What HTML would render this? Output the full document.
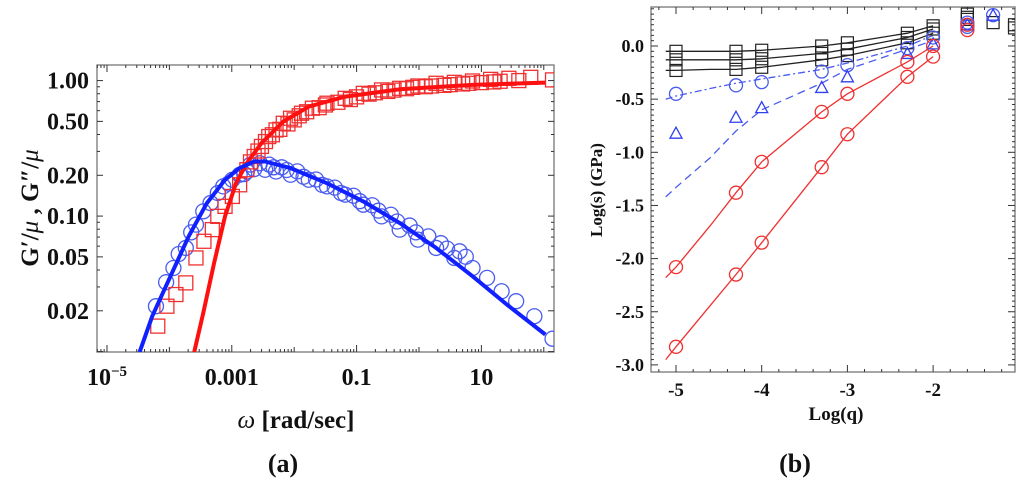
<!DOCTYPE html>
<html><head><meta charset="utf-8"><style>
body{margin:0;background:#fff;width:1024px;height:486px;overflow:hidden}
svg{display:block}
text{font-family:"Liberation Serif",serif;font-weight:bold;fill:#111}
</style></head><body>
<svg id="fig" width="1024" height="486">
<g id="A"></g>
<g id="B"></g>
<text x="283" y="472" font-size="26" text-anchor="middle">(a)</text>
<text x="795" y="472" font-size="26" text-anchor="middle">(b)</text>
</svg>
<script>
// ---------- Panel A data (log10 omega, log10 modulus) ----------
const gpX=[-4.186,-4.040,-3.895,-3.737,-3.574,-3.446,-3.312,-3.224,-3.108,-2.991,-2.874,-2.758,-2.641,-2.525,-2.408,-2.291,-2.175,-2.058,-1.883,-1.708,-1.475,-1.183,-0.892,-0.600,-0.309,-0.017,0.274,0.566,0.858,1.149,1.441,1.791,2.14,-2.70,-2.58,-2.46,-2.35,-2.23,-2.1,-2.0,-1.92,-1.8,-1.6,-1.5,-1.3,-1.1,-1.0,-0.8,-0.7,-0.5,-0.4,-0.2,-0.1,0.1,0.2,0.4,0.5,0.7,0.8,1.0,1.2,1.3,1.6];
const gpY=[-1.812,-1.665,-1.579,-1.493,-1.309,-1.186,-1.100,-1.002,-0.928,-0.855,-0.769,-0.658,-0.560,-0.486,-0.413,-0.364,-0.315,-0.278,-0.241,-0.204,-0.167,-0.131,-0.094,-0.069,-0.057,-0.040,-0.020,-0.013,-0.003,0.009,0.017,0.024,0.005,-0.60,-0.52,-0.45,-0.40,-0.36,-0.32,-0.29,-0.26,-0.23,-0.20,-0.18,-0.16,-0.14,-0.12,-0.10,-0.09,-0.08,-0.07,-0.06,-0.05,-0.045,-0.04,-0.035,-0.03,-0.025,-0.02,-0.015,-0.01,-0.005,0.0];
const gppX=[-4.215,-4.052,-3.935,-3.737,-3.574,-3.457,-3.341,-3.224,-3.137,-2.991,-2.874,-2.758,-2.641,-2.466,-2.291,-2.058,-1.766,-1.475,-1.183,-0.892,-0.600,-0.309,-0.017,0.274,0.566,0.858,1.091,1.324,1.557,1.849,2.14,-3.85,-3.65,-3.05,-2.80,-2.70,-2.55,-2.40,-2.33,-2.20,-2.12,-1.95,-1.85,-1.65,-1.55,-1.35,-1.25,-1.05,-0.95,-0.75,-0.65,-0.45,-0.35,-0.15,-0.05,0.15,0.35,0.45,0.65,0.75];
const gppY=[-1.665,-1.488,-1.383,-1.235,-1.063,-0.965,-0.904,-0.830,-0.781,-0.732,-0.695,-0.671,-0.653,-0.658,-0.671,-0.695,-0.732,-0.781,-0.842,-0.916,-1.002,-1.100,-1.174,-1.235,-1.309,-1.383,-1.456,-1.555,-1.628,-1.739,-1.905,-1.28,-1.12,-0.76,-0.69,-0.62,-0.61,-0.62,-0.64,-0.64,-0.66,-0.67,-0.71,-0.73,-0.77,-0.79,-0.83,-0.85,-0.89,-0.92,-0.96,-0.99,-1.04,-1.07,-1.12,-1.15,-1.20,-1.24,-1.26,-1.30,-1.34];
const fitPX=[-3.603,-3.457,-3.283,-3.108,-2.933,-2.758,-2.525,-2.175,-1.766,-1.183,-0.309,0.858,2.025];
const fitPY=[-2.004,-1.714,-1.346,-1.002,-0.757,-0.609,-0.462,-0.302,-0.192,-0.118,-0.064,-0.032,-0.015];
const fitPPX=[-4.478,-4.274,-3.982,-3.691,-3.399,-3.108,-2.874,-2.641,-2.466,-2.058,-1.475,-0.892,-0.309,0.274,0.858,1.441,2.025];
const fitPPY=[-2.004,-1.738,-1.444,-1.149,-0.904,-0.732,-0.646,-0.597,-0.597,-0.646,-0.757,-0.892,-1.051,-1.235,-1.444,-1.665,-1.874];
const aYTicks=[1,0.5,0.2,0.1,0.05,0.02];
const aYLabels=["1.00","0.50","0.20","0.10","0.05","0.02"];
const aXTicks=[-5,-3,-1,1];
const aXLabels=["10","0.001","0.1","10"];

// ---------- Panel B data ----------
const qX=[-5,-4.3,-4,-3.3,-3,-2.3,-2];
const blk1=[-0.05,-0.05,-0.04,0.0,0.03,0.12,0.19];
const blk2=[-0.13,-0.13,-0.12,-0.07,-0.03,0.08,0.16];
const blk3=[-0.23,-0.22,-0.20,-0.13,-0.09,0.03,0.12];
const bluC=[-0.45,-0.37,-0.34,-0.24,-0.18,-0.02,0.08];
const bluT=[-0.82,-0.67,-0.58,-0.39,-0.29,-0.07,0.02];
const redA=[-2.08,-1.38,-1.09,-0.62,-0.45,-0.15,0.0];
const redB=[-2.83,-2.15,-1.85,-1.14,-0.83,-0.29,-0.10];
const lineX=[-5.12,-5,-4.6,-4.3,-4,-3.3,-3,-2.3,-2];
const dashDotY=[-0.50,-0.47,-0.40,-0.35,-0.31,-0.22,-0.16,0.0,0.10];
const dashY=[-1.42,-1.33,-1.05,-0.80,-0.60,-0.35,-0.22,-0.03,0.05];
const redAline=[-2.18,-2.08,-1.69,-1.38,-1.09,-0.62,-0.45,-0.15,0.0];
const redBline=[-2.95,-2.83,-2.44,-2.15,-1.85,-1.14,-0.83,-0.29,-0.10];
const blk1line=[-0.05,-0.05,-0.05,-0.05,-0.04,0.0,0.03,0.12,0.19];
const blk2line=[-0.13,-0.13,-0.13,-0.13,-0.12,-0.07,-0.03,0.08,0.16];
const blk3line=[-0.23,-0.23,-0.22,-0.22,-0.20,-0.13,-0.09,0.03,0.12];
const extraBlkX=[-1.6,-1.6,-1.6,-1.3,-1.05,-1.05];
const extraBlkY=[0.30,0.27,0.25,0.22,0.20,0.17];
const extraCX=[-1.6,-1.6,-1.3];
const extraCY=[0.22,0.18,0.29];
const extraRX=[-1.6,-1.6];
const extraRY=[0.20,0.15];
const extraTX=[-1.6,-1.3];
const extraTY=[0.20,0.29];
const bXTicks=[-5,-4,-3,-2];
const bYTicks=[0,-0.5,-1,-1.5,-2,-2.5,-3];

const NS="http://www.w3.org/2000/svg";
function mk(p,tag,at){const e=document.createElementNS(NS,tag);for(const k in at)e.setAttribute(k,at[k]);p.appendChild(e);return e;}

// ---- Panel A ----
const A=document.getElementById('A');
const aL=97,aR=554,aT=65,aB=352;
const ax=v=>aL+(v-(-5.16))*62.4;
const ay=v=>aT+(0.115-v)*135.5;
const aFrame=mk(A,'rect',{x:aL,y:aT,width:aR-aL,height:aB-aT,fill:'none',stroke:'#777','stroke-width':1.3});

const clipA=mk(A,'clipPath',{id:'ca'});mk(clipA,'rect',{x:aL,y:aT,width:aR-aL,height:aB-aT});
for(let d=-2;d<=0;d++)for(let m=1;m<=9;m++){const v=d+Math.log10(m);if(v>0.115)continue;const y=ay(v);const L=(m==1||m==2||m==5)?6:3;
 mk(A,'line',{x1:aL,x2:aL+L,y1:y,y2:y,stroke:'#333'});mk(A,'line',{x1:aR,x2:aR-L,y1:y,y2:y,stroke:'#333'});}
aYTicks.forEach((t,i)=>{const e=mk(A,'text',{x:aL-8,y:ay(Math.log10(t))+8,'font-size':24,'text-anchor':'end'});e.textContent=aYLabels[i];
 });
for(let d=-6;d<=2;d++)for(let m=1;m<=9;m++){const v=d+Math.log10(m);if(v<-5.16||v>2.17)continue;const x=ax(v);const L=(m==1)?(d%2!=0?7:5):3;
 mk(A,'line',{x1:x,x2:x,y1:aB,y2:aB-L,stroke:'#333'});mk(A,'line',{x1:x,x2:x,y1:aT,y2:aT+L,stroke:'#333'});}
aXTicks.forEach((t,i)=>{const e=mk(A,'text',{x:ax(t),y:aB+33,'font-size':24,'text-anchor':'middle'});
 if(i==0){e.textContent=aXLabels[i];const s=mk(e,'tspan',{dy:-9,'font-size':15});s.textContent='−5';}else e.textContent=aXLabels[i];
 });
const gA=mk(A,'g',{'clip-path':'url(#ca)'});

gppX.forEach((v,i)=>{const c=mk(gA,'circle',{cx:ax(v),cy:ay(gppY[i]),r:7.5,fill:'none',stroke:'#4a5cf0','stroke-width':1.3});
 });
gpX.forEach((v,i)=>{const r=mk(gA,'rect',{x:ax(v)-7,y:ay(gpY[i])-7,width:14,height:14,fill:'none',stroke:'#f03030','stroke-width':1.3});
 });
const pl=(xs,ys,fx,fy)=>xs.map((v,i)=>fx(v).toFixed(1)+','+fy(ys[i]).toFixed(1)).join(' ');
const l1=mk(gA,'polyline',{points:pl(fitPX,fitPY,ax,ay),fill:'none',stroke:'#ff1010','stroke-width':4,'stroke-linejoin':'round'});

const l2=mk(gA,'polyline',{points:pl(fitPPX,fitPPY,ax,ay),fill:'none',stroke:'#1020ff','stroke-width':4,'stroke-linejoin':'round'});

const axt=mk(A,'text',{x:296,y:428,'font-size':25,'text-anchor':'middle'});axt.innerHTML='<tspan font-style="italic" font-weight="normal">ω</tspan> [rad/sec]';

const ayt=mk(A,'text',{x:0,y:0,'font-size':25,'text-anchor':'middle',transform:'translate(38,208) rotate(-90)'});ayt.innerHTML='G′/<tspan font-style="italic" font-weight="normal">μ</tspan> ,  G″/<tspan font-style="italic" font-weight="normal">μ</tspan>';


// ---- Panel B ----
const B=document.getElementById('B');
const bL=651,bR=1015,bT=7,bB=372;
const bx=v=>676+(v+5)*85.7;
const by=v=>46-v*106.3;
const bFrame=mk(B,'rect',{x:bL,y:bT,width:bR-bL,height:bB-bT,fill:'none',stroke:'#777','stroke-width':1.3});

const clipB=mk(B,'clipPath',{id:'cb'});mk(clipB,'rect',{x:bL,y:bT,width:bR-bL,height:bB-bT});
for(let k=-60;k<=10;k++){const v=k/20;const y=by(v);if(y<bT||y>bB)continue;const L=(k%10==0)?7:3;
 mk(B,'line',{x1:bL,x2:bL+L,y1:y,y2:y,stroke:'#333'});mk(B,'line',{x1:bR,x2:bR-L,y1:y,y2:y,stroke:'#333'});}
for(let k=-27;k<=-5;k++){const v=k/5;const x=bx(v);if(x<bL||x>bR)continue;const L=(k%5==0)?7:3;
 mk(B,'line',{x1:x,x2:x,y1:bB,y2:bB-L,stroke:'#333'});mk(B,'line',{x1:x,x2:x,y1:bT,y2:bT+L,stroke:'#333'});}
const byt=mk(B,'text',{x:0,y:0,'font-size':17,'text-anchor':'middle',transform:'translate(602,190) rotate(-90)'});byt.textContent='Log(s) (GPa)';

bYTicks.forEach(t=>{const e=mk(B,'text',{x:bL-7,y:by(t)+6,'font-size':18,'text-anchor':'end'});e.textContent=(t<0?'-':'')+Math.abs(t).toFixed(1);
 });
bXTicks.forEach(t=>{const e=mk(B,'text',{x:bx(t),y:bB+24,'font-size':19,'text-anchor':'middle'});e.textContent='-'+Math.abs(t);
 });
const gB=mk(B,'g',{'clip-path':'url(#cb)'});

function line(ys,col,dash,name){const e=mk(gB,'polyline',{points:pl(lineX,ys,bx,by),fill:'none',stroke:col,'stroke-width':1.3,'stroke-dasharray':dash||'none'});
 }
line(blk1line,'#222','','black-curve-1');line(blk2line,'#222','','black-curve-2');line(blk3line,'#222','','black-curve-3');
line(dashDotY,'#4a5cf0','7,3,2,3','blue-dashdot-curve');line(dashY,'#4a5cf0','8,5','blue-dashed-curve');
line(redAline,'#f03030','','red-curve-upper');line(redBline,'#f03030','','red-curve-lower');
function sq(xs,ys,name){xs.forEach((v,i)=>{const r=mk(gB,'rect',{x:bx(v)-6,y:by(ys[i])-6,width:12,height:12,fill:'none',stroke:'#222','stroke-width':1.2});
 });}
function ci(xs,ys,col,name){xs.forEach((v,i)=>{const c=mk(gB,'circle',{cx:bx(v),cy:by(ys[i]),r:6.5,fill:'none',stroke:col,'stroke-width':1.3});
 });}
function tr(xs,ys,name){xs.forEach((v,i)=>{const x=bx(v),y=by(ys[i]);const p=mk(gB,'polygon',{points:`${x},${y-6} ${x-6},${y+5} ${x+6},${y+5}`,fill:'none',stroke:'#3040f0','stroke-width':1.3});
 });}
sq(qX,blk1,'black-square-1');sq(qX,blk2,'black-square-2');sq(qX,blk3,'black-square-3');sq(extraBlkX,extraBlkY,'black-square-extra');
ci(qX,bluC,'#4a5cf0','blue-circle');ci(extraCX,extraCY,'#4a5cf0','blue-circle-extra');
tr(qX,bluT,'blue-triangle');tr(extraTX,extraTY,'blue-triangle-extra');
ci(qX,redA,'#f03030','red-circle-upper');ci(qX,redB,'#f03030','red-circle-lower');ci(extraRX,extraRY,'#f03030','red-circle-extra');
const bxt=mk(B,'text',{x:836,y:420,'font-size':19,'text-anchor':'middle'});bxt.textContent='Log(q)';

</script>
</body></html>
